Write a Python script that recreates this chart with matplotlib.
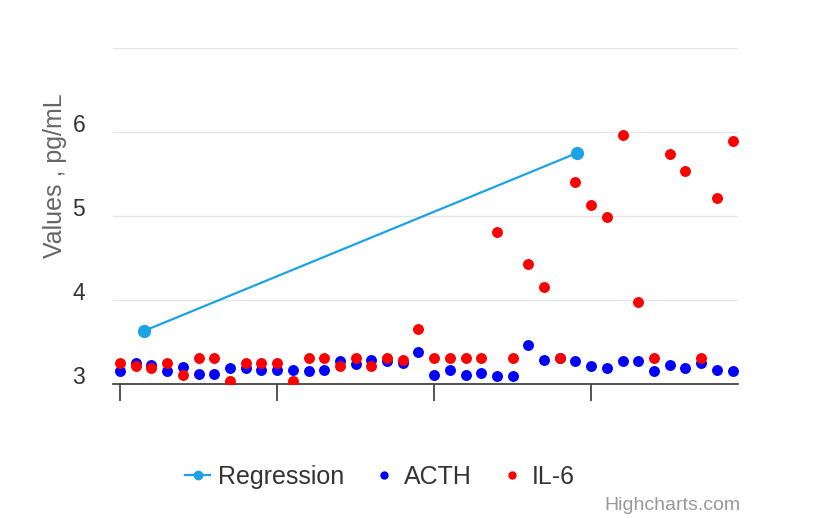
import numpy as np
import matplotlib.pyplot as plt
import matplotlib.transforms as mtransforms
from matplotlib.lines import Line2D

plt.rcParams['font.family'] = ['Liberation Sans', 'DejaVu Sans']

# data
sample_idx = list(range(40))
acth = [3.15, 3.25, 3.23, 3.15, 3.20, 3.12, 3.12, 3.19, 3.19, 3.17,
        3.17, 3.17, 3.15, 3.17, 3.27, 3.24, 3.29, 3.27, 3.25, 3.38,
        3.11, 3.17, 3.11, 3.13, 3.10, 3.09, 3.46, 3.28, 3.31, 3.27,
        3.21, 3.19, 3.27, 3.27, 3.15, 3.23, 3.19, 3.25, 3.17, 3.16]
il6 = [3.25, 3.21, 3.19, 3.25, 3.11, 3.31, 3.31, 3.04, 3.25, 3.25,
       3.25, 3.03, 3.31, 3.31, 3.21, 3.31, 3.21, 3.31, 3.29, 3.66,
       3.31, 3.31, 3.31, 3.31, 4.81, 3.31, 4.43, 4.15, 3.31, 5.40,
       5.13, 4.99, 5.97, 3.98, 3.31, 5.74, 5.54, 3.31, 5.22, 5.89]
regression_x = [1.5, 29.1]
regression_y = [3.63, 5.75]

y_ticks = [3, 4, 5, 6, 7]
y_tick_labels = ['3', '4', '5', '6', '']
x_ticks = [0, 10, 20, 30]

reg_color = '#1ba3e6'
acth_color = '#0000ff'
il6_color = '#ff0000'

fig = plt.figure(figsize=(8.14, 5.19), dpi=100)
ax = fig.add_axes([113/814, 1 - 384/519, 625/814, 336/519])

ax.plot(regression_x, regression_y, color=reg_color, lw=1.6, marker='o',
        markersize=8.5, zorder=3)
ax.scatter(sample_idx, acth, s=62, color=acth_color, linewidths=0, zorder=4)
ax.scatter(sample_idx, il6, s=62, color=il6_color, linewidths=0, zorder=5)

ax.set_xlim(-0.45, 39.35)
ax.set_ylim(3, 7)

ax.set_yticks(y_ticks)
ax.set_yticklabels(y_tick_labels)
ax.grid(axis='y', color='#e6e6e6', lw=1)
ax.set_axisbelow(True)
ax.tick_params(axis='y', length=0, pad=20, labelsize=16.5, labelcolor='#333333')
offset = mtransforms.ScaledTranslation(0, 9/100, fig.dpi_scale_trans)
for lbl in ax.get_yticklabels():
    lbl.set_transform(lbl.get_transform() + offset)

ax.set_xticks(x_ticks)
ax.set_xticklabels([])
ax.tick_params(axis='x', length=12, width=1.3, color='#444444', direction='out')

for side in ['top', 'right', 'left']:
    ax.spines[side].set_visible(False)
ax.spines['bottom'].set_color('#444444')
ax.spines['bottom'].set_linewidth(1.3)
ax.spines['bottom'].set_zorder(2)

fig.text(55/814, 1 - 176/519, 'Values , pg/mL', rotation=90, fontsize=18,
         color='#666666', ha='center', va='center')

handles = [
    Line2D([], [], color=reg_color, lw=1.6, marker='o', markersize=6),
    Line2D([], [], color='none', marker='o', markersize=6,
           markerfacecolor=acth_color, markeredgewidth=0),
    Line2D([], [], color='none', marker='o', markersize=6,
           markerfacecolor=il6_color, markeredgewidth=0),
]
fig.legend(handles, ['Regression', 'ACTH', 'IL-6'], loc='center',
           bbox_to_anchor=(380/814, 1 - 477/519), ncol=3, frameon=False,
           fontsize=18, handlelength=1.0, handletextpad=0.3, columnspacing=1.1,
           labelcolor='#333333')

fig.text(740/814, 1 - 506/519, 'Highcharts.com', fontsize=14, color='#999999',
         ha='right', va='center')

plt.savefig('out.png', dpi=100)
